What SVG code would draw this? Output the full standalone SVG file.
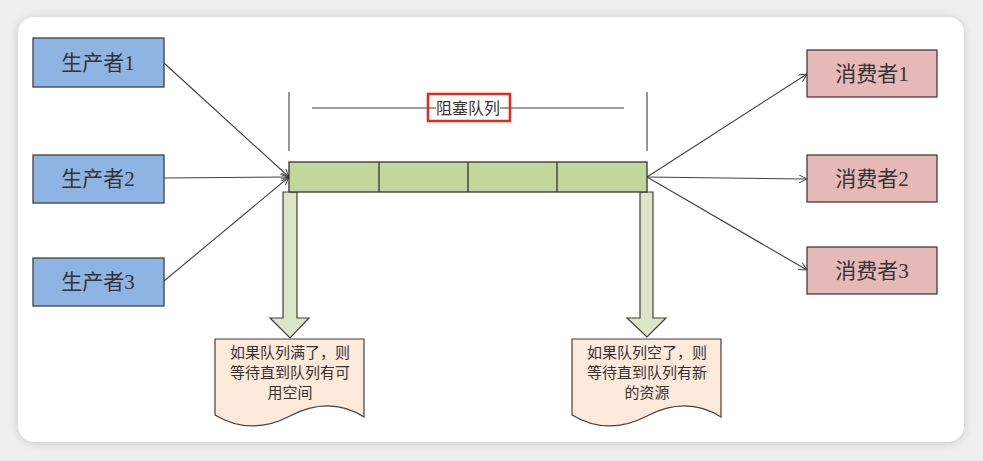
<svg xmlns="http://www.w3.org/2000/svg" width="983" height="461" viewBox="0 0 983 461">
<defs>
<filter id="sh" x="-5%" y="-5%" width="110%" height="110%">
<feGaussianBlur stdDeviation="5"/>
</filter>
<marker id="ah" viewBox="0 0 10 10" refX="10" refY="5" markerWidth="8" markerHeight="8" orient="auto" markerUnits="userSpaceOnUse">
<path d="M0,0 L10,5 L0,10" fill="none" stroke="#404040" stroke-width="1.2"/>
</marker>
<style>
.prod{fill:#8EB4E3;stroke:#404040;stroke-width:1.3}
.cons{fill:#E6B9B8;stroke:#404040;stroke-width:1.3}
.q{fill:#C3D69B;stroke:#333;stroke-width:1.3}
.blk{fill:#DDE5C8;stroke:#404040;stroke-width:1.2}
.doc{fill:#FDE9D9;stroke:#404040;stroke-width:1.2}
.lbl{font-family:"Liberation Serif","Noto Sans CJK SC",serif;font-size:21px;fill:#333;text-anchor:middle}
.dt{font-family:"Noto Sans CJK SC",sans-serif;font-size:15px;fill:#333;text-anchor:middle}
.ln{stroke:#404040;stroke-width:1.1;fill:none}
</style>
</defs>
<rect width="983" height="461" fill="#EFEFEF"/>
<rect x="18" y="18" width="946" height="425" rx="16" fill="#C8C8C8" filter="url(#sh)"/>
<rect x="18" y="17" width="946" height="425" rx="16" fill="#FFFFFF"/>

<g id="connectors">
<line class="ln" x1="164" y1="63" x2="289" y2="177" marker-end="url(#ah)"/>
<line class="ln" x1="164" y1="178" x2="289" y2="177" marker-end="url(#ah)"/>
<line class="ln" x1="164" y1="281" x2="289" y2="177" marker-end="url(#ah)"/>
<line class="ln" x1="647" y1="177" x2="807" y2="74" marker-end="url(#ah)"/>
<line class="ln" x1="647" y1="177" x2="807" y2="179" marker-end="url(#ah)"/>
<line class="ln" x1="647" y1="177" x2="807" y2="270" marker-end="url(#ah)"/>
</g>

<g id="dimension">
<line class="ln" x1="289" y1="92" x2="289" y2="151"/>
<line class="ln" x1="647" y1="92" x2="647" y2="151"/>
<line class="ln" x1="312" y1="108" x2="436" y2="108"/>
<line class="ln" x1="500" y1="108" x2="624" y2="108"/>
<rect x="428" y="94" width="82" height="27" fill="none" stroke="#E8281E" stroke-width="2.5"/>
<text x="468" y="114" class="dt" style="font-size:16px">阻塞队列</text>
</g>

<g id="arrow-left">
<path class="blk" d="M283,192 L297,192 L297,318 L309,318 L290,338 L270,318 L283,318 Z"/>
</g>
<g id="arrow-right">
<path class="blk" d="M640,192 L653,192 L653,318 L666,318 L647,337 L627,318 L640,318 Z"/>
</g>

<g id="queue">
<rect class="q" x="289" y="162" width="358" height="30"/>
<line class="q" x1="379" y1="162" x2="379" y2="192"/>
<line class="q" x1="468" y1="162" x2="468" y2="192"/>
<line class="q" x1="557" y1="162" x2="557" y2="192"/>
</g>

<g id="producer1"><rect class="prod" x="33" y="38" width="131" height="49"/><text class="lbl" x="98" y="70">生产者1</text></g>
<g id="producer2"><rect class="prod" x="33" y="155" width="131" height="48"/><text class="lbl" x="98" y="186">生产者2</text></g>
<g id="producer3"><rect class="prod" x="33" y="258" width="131" height="48"/><text class="lbl" x="98" y="289">生产者3</text></g>

<g id="consumer1"><rect class="cons" x="807" y="50" width="130" height="47"/><text class="lbl" x="872" y="81">消费者1</text></g>
<g id="consumer2"><rect class="cons" x="807" y="155" width="130" height="47"/><text class="lbl" x="872" y="186">消费者2</text></g>
<g id="consumer3"><rect class="cons" x="807" y="247" width="130" height="47"/><text class="lbl" x="872" y="278">消费者3</text></g>

<g id="doc-left">
<path class="doc" d="M215,339 L364,339 L364,417 C340,402 315,403 290,416 C265,429 240,430 215,415 Z"/>
<text class="dt" x="290" y="358">如果队列满了，则</text>
<text class="dt" x="290" y="378">等待直到队列有可</text>
<text class="dt" x="290" y="398">用空间</text>
</g>
<g id="doc-right">
<path class="doc" d="M572,339 L721,339 L721,417 C697,402 672,403 647,416 C622,429 597,430 572,415 Z"/>
<text class="dt" x="647" y="358">如果队列空了，则</text>
<text class="dt" x="647" y="378">等待直到队列有新</text>
<text class="dt" x="647" y="398">的资源</text>
</g>
</svg>
